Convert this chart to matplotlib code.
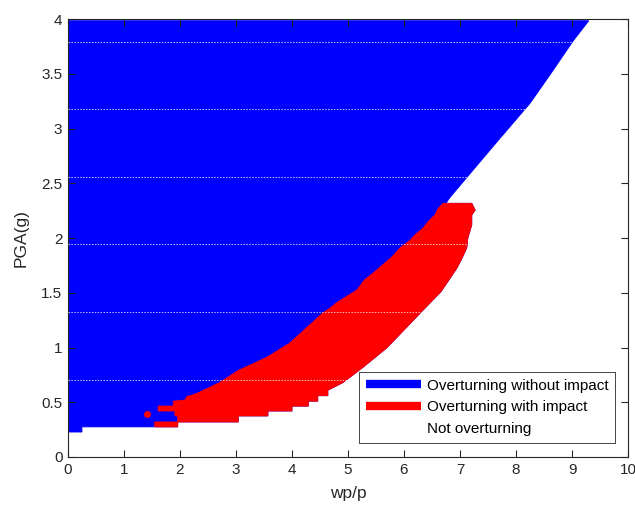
import matplotlib
matplotlib.use("Agg")
import matplotlib.pyplot as plt
from matplotlib.lines import Line2D

plt.rcParams['font.family'] = ['Liberation Sans', 'DejaVu Sans']

# Outer envelope of all overturning cases (wp/p, PGA) -- traced counter-clockwise
over_x = [0.0, 9.30, 9.02, 8.62, 8.25, 7.68, 7.20, 6.82, 6.75,
          7.21, 7.27, 7.21, 7.21, 7.14, 7.12, 7.04, 6.95, 6.82, 6.66,
          6.29, 5.70, 5.27, 4.91, 4.64, 4.64, 4.46, 4.46, 4.29, 4.29,
          4.00, 4.00, 3.57, 3.57, 3.04, 3.04, 1.96, 1.96,
          0.25, 0.25, 0.0]
over_y = [3.985, 3.985, 3.80, 3.50, 3.23, 2.89, 2.60, 2.37, 2.317,
          2.317, 2.255, 2.21, 2.12, 2.00, 1.91, 1.82, 1.73, 1.63, 1.51,
          1.315, 1.00, 0.82, 0.68, 0.61, 0.56, 0.56, 0.51, 0.51, 0.465,
          0.465, 0.42, 0.42, 0.375, 0.375, 0.32, 0.32, 0.275,
          0.275, 0.228, 0.228]

# Region where overturning involves impact
imp_x = [6.70, 7.21, 7.27, 7.21, 7.21, 7.14, 7.12, 7.04, 6.95, 6.82, 6.66,
         6.29, 5.70, 5.27, 4.91, 4.64, 4.64, 4.46, 4.46, 4.29, 4.29,
         4.00, 4.00, 3.57, 3.57, 3.04, 3.04, 1.96, 1.96, 1.55, 1.55,
         1.96, 1.96, 1.91, 1.91, 1.61, 1.61, 1.88, 1.88, 2.09, 2.12,
         2.30, 2.71, 3.04, 3.55, 3.96, 4.55, 4.68, 4.80, 5.16, 5.30,
         5.45, 5.79, 5.93, 6.11, 6.20, 6.34, 6.43, 6.55, 6.61]
imp_y = [2.317, 2.317, 2.255, 2.21, 2.12, 2.00, 1.91, 1.82, 1.73, 1.63, 1.51,
         1.315, 1.00, 0.82, 0.68, 0.61, 0.56, 0.56, 0.51, 0.51, 0.465,
         0.465, 0.42, 0.42, 0.375, 0.375, 0.32, 0.32, 0.275, 0.275, 0.32,
         0.32, 0.375, 0.375, 0.42, 0.42, 0.465, 0.465, 0.51, 0.52, 0.55,
         0.58, 0.68, 0.79, 0.91, 1.04, 1.315, 1.36, 1.41, 1.525, 1.62,
         1.68, 1.83, 1.91, 1.98, 2.03, 2.09, 2.15, 2.21, 2.27]

# Isolated impact case
dot_x = [1.42]
dot_y = [0.395]

# Sampling rows that were skipped in the parameter sweep
gap_rows = [3.793, 3.175, 2.557, 1.943, 1.322, 0.703]

x_ticks = list(range(0, 11))
y_ticks = [0, 0.5, 1, 1.5, 2, 2.5, 3, 3.5, 4]
y_labels = ['0', '0.5', '1', '1.5', '2', '2.5', '3', '3.5', '4']
legend_labels = ['Overturning without impact', 'Overturning with impact',
                 'Not overturning']

fig = plt.figure(figsize=(6.35, 5.11), dpi=100)
ax = fig.add_axes([0.107, 0.1057, 0.882, 0.857])

ax.fill(over_x, over_y, color=(0, 0, 1), lw=0.6, ec=(0, 0, 1), zorder=1)
ax.fill(imp_x, imp_y, color=(1, 0, 0), lw=0.6, ec=(1, 0, 0), zorder=2)
ax.plot(dot_x, dot_y, 'o', color=(1, 0, 0), ms=5, mec='none', zorder=2)
for g in gap_rows:
    ax.axhline(g, color='white', lw=0.7, ls=(0, (1.5, 1.5)), alpha=0.75,
               zorder=3)

ax.set_xlim(0, 10)
ax.set_ylim(0, 4)
ax.set_xticks(x_ticks)
ax.set_yticks(y_ticks)
ax.set_yticklabels(y_labels)
dark = '#262626'
ax.tick_params(direction='in', top=True, right=True, length=5, width=0.8,
               colors=dark, labelsize=11, labelcolor=dark, pad=4)
for s in ax.spines.values():
    s.set_color(dark)
    s.set_linewidth(0.8)
ax.set_xlabel('wp/p', fontsize=12.5, color=dark, labelpad=7)
ax.set_ylabel('PGA(g)', fontsize=12.5, color=dark, labelpad=9)

handles = [Line2D([], [], color=(0, 0, 1), lw=6, solid_capstyle='butt'),
           Line2D([], [], color=(1, 0, 0), lw=6, solid_capstyle='butt'),
           Line2D([], [], color='white', lw=6, solid_capstyle='butt')]
leg = ax.legend(handles, legend_labels, loc='lower right',
                bbox_to_anchor=(0.977, 0.032), borderaxespad=0,
                fancybox=False, framealpha=1, edgecolor=dark, fontsize=11,
                handlelength=3.55, handletextpad=0.4, labelspacing=0.5,
                borderpad=0.45)
leg.get_frame().set_linewidth(0.6)
leg.set_zorder(5)

fig.savefig('out.png', dpi=100)
